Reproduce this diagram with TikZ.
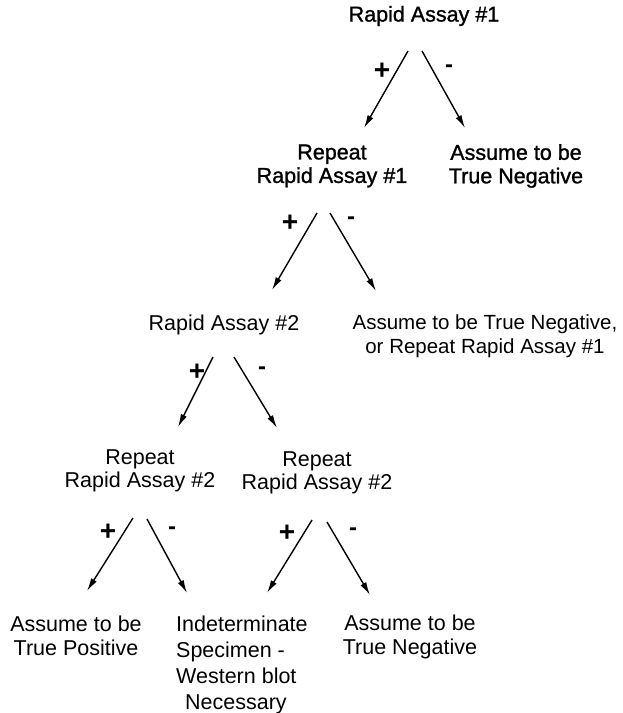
\documentclass[tikz,border=0pt]{standalone}
\usepackage{fontspec}
\setmainfont{Liberation Sans}
\newfontfamily\heavyfont[FakeBold=1.2]{Liberation Sans}
\usetikzlibrary{arrows.meta}
\begin{document}
\begin{tikzpicture}[x=1pt,y=-1pt,
  txt/.style={inner sep=0pt,align=center,font=\fontsize{21.5pt}{23.5pt}\selectfont},
  toptxt/.style={txt,font=\heavyfont\fontsize{21.5pt}{23.5pt}\selectfont},
  sgn/.style={inner sep=0pt,font=\bfseries\fontsize{24pt}{26pt}\selectfont},
  plus/.style={inner sep=0pt,font=\bfseries\fontsize{28pt}{30pt}\selectfont},
  arr/.style={line width=1.4pt,-{Latex[length=13pt,width=6.5pt]}}]
\useasboundingbox (0,0) rectangle (622,713);
% nodes
\node[toptxt] (r1) at (424,16) {Rapid Assay \#1};
\node[toptxt] (rr1) at (332,166) {Repeat\\Rapid Assay \#1};
\node[toptxt] (tn1) at (516,166) {Assume to be\\True Negative};
\node[txt] (r2) at (224,325) {Rapid Assay \#2};
\node[txt,font=\fontsize{20.5pt}{23.5pt}\selectfont] (tn2) at (485,336) {Assume to be True Negative,\\or Repeat Rapid Assay \#1};
\node[txt] (rr2a) at (140,471) {Repeat\\Rapid Assay \#2};
\node[txt] (rr2b) at (317,473) {Repeat\\Rapid Assay \#2};
\node[txt] (tp) at (76,636) {Assume to be\\True Positive};
\node[txt,align=left,anchor=west,font=\fontsize{21.5pt}{26pt}\selectfont] (ind) at (176,665) {Indeterminate\\Specimen -\\Western blot\\\hspace*{9pt}Necessary};
\node[txt] (tn3) at (410,637) {Assume to be\\True Negative};
% arrow ends
\coordinate (a1s) at (408,51);  \coordinate (a1e) at (364,128);
\coordinate (b1s) at (422,51);  \coordinate (b1e) at (465,128);
\coordinate (a2s) at (317,213); \coordinate (a2e) at (272,290);
\coordinate (b2s) at (330,213); \coordinate (b2e) at (376,291);
\coordinate (a3s) at (213,357); \coordinate (a3e) at (178,427);
\coordinate (b3s) at (234,357); \coordinate (b3e) at (277,428);
\coordinate (a4s) at (133,518); \coordinate (a4e) at (87,591);
\coordinate (b4s) at (147,519); \coordinate (b4e) at (187,593);
\coordinate (a5s) at (312,520); \coordinate (a5e) at (267,593);
\coordinate (b5s) at (327,522); \coordinate (b5e) at (370,595);
% connectors
\draw[arr] (a1s) -- (a1e); \draw[arr] (b1s) -- (b1e);
\draw[arr] (a2s) -- (a2e); \draw[arr] (b2s) -- (b2e);
\draw[arr] (a3s) -- (a3e); \draw[arr] (b3s) -- (b3e);
\draw[arr] (a4s) -- (a4e); \draw[arr] (b4s) -- (b4e);
\draw[arr] (a5s) -- (a5e); \draw[arr] (b5s) -- (b5e);
% labels
\node[plus] (p1) at (382,71) {+}; \node[sgn] (m1) at (449,69) {-};
\node[plus] (p2) at (290,223) {+}; \node[sgn] (m2) at (351,221) {-};
\node[plus] (p3) at (197,372) {+}; \node[sgn] (m3) at (262,371) {-};
\node[plus] (p4) at (108,532) {+}; \node[sgn] (m4) at (172,531) {-};
\node[plus] (p5) at (287,533) {+}; \node[sgn] (m5) at (353,532) {-};
\end{tikzpicture}
\end{document}
